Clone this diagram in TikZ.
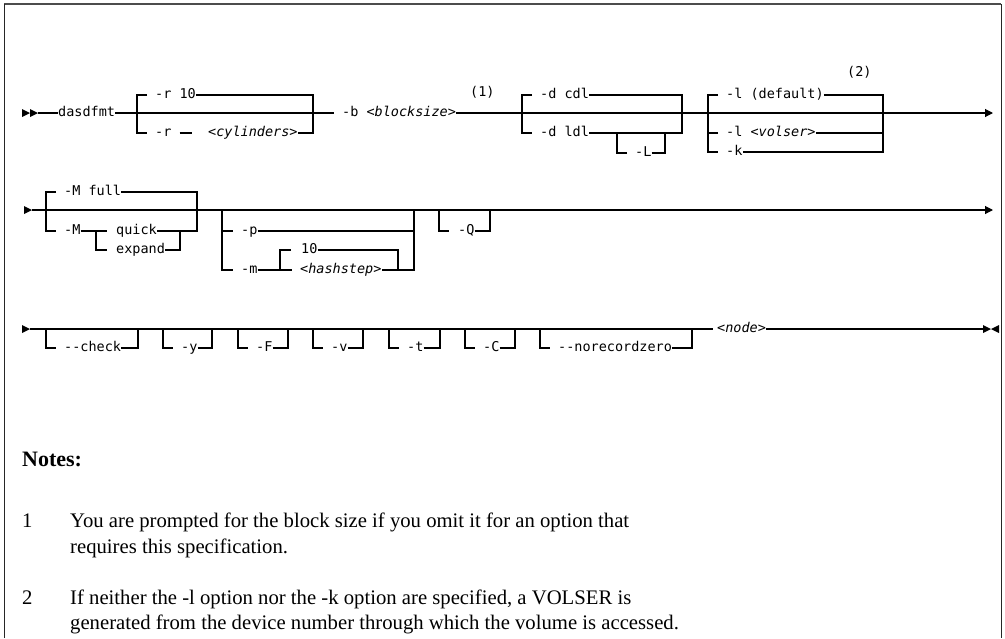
\documentclass[tikz,border=0pt]{standalone}
\usepackage{fontspec}
\setmainfont{Liberation Serif}
\setmonofont{DejaVu Sans Mono}
\usetikzlibrary{arrows.meta,positioning,calc}

\begin{document}
\begin{tikzpicture}[x=1pt,y=-1pt,
    syn/.style={font=\ttfamily\fontsize{13.5}{14}\selectfont,inner sep=0pt,
                text height=0.76em,text depth=0pt,anchor=west},
    rail/.style={line width=1.1pt},
    railend/.style={rail,-{Triangle[length=8pt,width=8pt]}},
    note/.style={font=\fontsize{20.7}{22}\selectfont,inner sep=0pt,anchor=base west}]
  \useasboundingbox (0,0) rectangle (1005,638);
  % frame
  \draw[line width=1.6pt,black!70] (4,4) -- (1001,4);
  \draw[line width=1pt,black!85] (4,638) -- (4,4) (1001,4) -- (1001,638);

  % row 1
  \fill (22,109) -- (30,113) -- (22,117) -- cycle (30,109) -- (38,113) -- (30,117) -- cycle;
  \coordinate (s1) at (38,113);
  \coordinate (e1) at (993,113);
  \node[syn] (cmd) at (58,113) {dasdfmt};
  \node[syn] (blk) at (342,113) {-b \textit{<blocksize>}};
  \node[syn] (fn1) at (470,93) {(1)};
  \draw[rail] (s1) -- (cmd.west) (cmd.east) -- ([xshift=-8pt]blk.west);
  \draw[railend] (blk.east) -- (e1);
  % -r
  \node[syn] (r10) at (155,95) {-r 10};
  \node[syn] (rcyl) at (155,133) {-r};
  \node[syn] (cyl) at (208,133) {\textit{<cylinders>}};
  \coordinate (rR) at (313,95);
  \draw[rail] ([xshift=-8pt]r10.west) -- ++(-10,0) |- ([xshift=-8pt]rcyl.west);
  \draw[rail] (r10.east) -- (rR) |- (cyl.east);
  \draw[rail] ([xshift=8pt]rcyl.east) -- ([xshift=-16pt]cyl.west);
  % -d
  \node[syn] (dcdl) at (540,95) {-d cdl};
  \node[syn] (dldl) at (540,133) {-d ldl};
  \node[syn] (dL) at (635,153) {-L};
  \coordinate (dR) at (682,95);
  \coordinate (LR) at (665,133);
  \draw[rail] ([xshift=-8pt]dcdl.west) -- ++(-10,0) |- ([xshift=-8pt]dldl.west);
  \draw[rail] (dcdl.east) -- (dR) |- (dldl.east);
  \draw[rail] ([xshift=-8pt]dL.west) -- ++(-10,0) -- ++(0,-20) (dL.east) -| (LR);
  % -l / -k
  \node[syn] (ldef) at (726,95) {-l (default)};
  \node[syn] (lvol) at (726,133) {-l \textit{<volser>}};
  \node[syn] (kopt) at (726,152) {-k};
  \node[syn] (fn2) at (847,73) {(2)};
  \coordinate (lR) at (883,95);
  \draw[rail] ([xshift=-8pt]ldef.west) -- ++(-10,0) |- ([xshift=-8pt]kopt.west);
  \draw[rail] ([xshift=-8pt]lvol.west) -- ++(-10,0);
  \draw[rail] (ldef.east) -- (lR) |- (kopt.east) (lvol.east) -- (lvol.east -| lR);

  % row 2
  \fill (24,206) -- (32,210) -- (24,214) -- cycle;
  \coordinate (s2) at (32,210);
  \coordinate (e2) at (993,210);
  \draw[railend] (s2) -- (e2);
  % -M
  \node[syn] (Mfull) at (64,192) {-M full};
  \node[syn] (Mopt) at (64,231) {-M};
  \node[syn] (quick) at (116,231) {quick};
  \node[syn] (expand) at (116,250) {expand};
  \coordinate (MR) at (197,192);
  \coordinate (qL) at (96,231);
  \coordinate (qR) at (180,231);
  \draw[rail] ([xshift=-8pt]Mfull.west) -- ++(-10,0) |- ([xshift=-8pt]Mopt.west);
  \draw[rail] (Mfull.east) -- (MR) |- (quick.east) (expand.east) -| (qR);
  \draw[rail] (Mopt.east) -- ([xshift=-9pt]quick.west) (qL) |- ([xshift=-9pt]expand.west);
  % -p / -m
  \node[syn] (popt) at (241,231) {-p};
  \node[syn] (mopt) at (241,270) {-m};
  \node[syn] (h10) at (301,250) {10};
  \node[syn] (hstep) at (300,270) {\textit{<hashstep>}};
  \coordinate (pL) at (222,210);
  \coordinate (pR) at (414,210);
  \coordinate (hL) at (280,250);
  \coordinate (hR) at (398,250);
  \draw[rail] (pL) |- ([xshift=-8pt]mopt.west) (pL |- popt.west) -- ([xshift=-8pt]popt.west);
  \draw[rail] (popt.east) -- (popt.east -| pR) (pR) |- (hstep.east);
  \draw[rail] (mopt.east) -- ([xshift=-8pt]hstep.west);
  \draw[rail] ([xshift=-10pt]h10.west) -| (hL |- hstep.west);
  \draw[rail] (h10.east) -| (hR |- hstep.east);
  % -Q
  \node[syn] (Q) at (458,231) {-Q};
  \coordinate (QL) at (439,210);
  \coordinate (QR) at (490,210);
  \draw[rail] (QL) |- ([xshift=-9pt]Q.west) (Q.east) -| (QR);

  % row 3
  \fill (22,325) -- (30,329) -- (22,333) -- cycle;
  \coordinate (s3) at (30,329);
  \node[syn] (nd) at (717,329) {\textit{<node>}};
  \coordinate (e3) at (983,329);
  \draw[rail] (s3) -- ([xshift=-4pt]nd.west) (nd.east) -- (e3);
  \fill (983,325) -- (991,329) -- (983,333) -- cycle (999,325) -- (991,329) -- (999,333) -- cycle;
  \foreach \xl/\lbl/\xr/\nm in {46/{-{}-check}/138/chk, 163/-y/212/yes, 238/-F/288/frc,
      313/-v/363/vrb, 389/-t/440/trk, 465/-C/515/cdl, 540/{-{}-norecordzero}/692/nrz}{
    \coordinate (L\nm) at (\xl,329);
    \node[syn] (\nm) at (\xl+18,348) {\lbl};
    \draw[rail] (L\nm) |- ([xshift=-8pt]\nm.west) (\nm.east) -| (\xr,329);
  }

  % notes
  \node[note,font=\bfseries\fontsize{22}{24}\selectfont] (nh) at (22,466) {Notes:};
  \node[note] (n1) at (22,527) {1};
  \node[note] (n1a) at (70,527) {You are prompted for the block size if you omit it for an option that};
  \node[note] (n1b) at (70,553) {requires this specification.};
  \node[note] (n2) at (22,604) {2};
  \node[note] (n2a) at (70,604) {If neither the -l option nor the -k option are specified, a VOLSER is};
  \node[note] (n2b) at (70,629) {generated from the device number through which the volume is accessed.};
\end{tikzpicture}
\end{document}
